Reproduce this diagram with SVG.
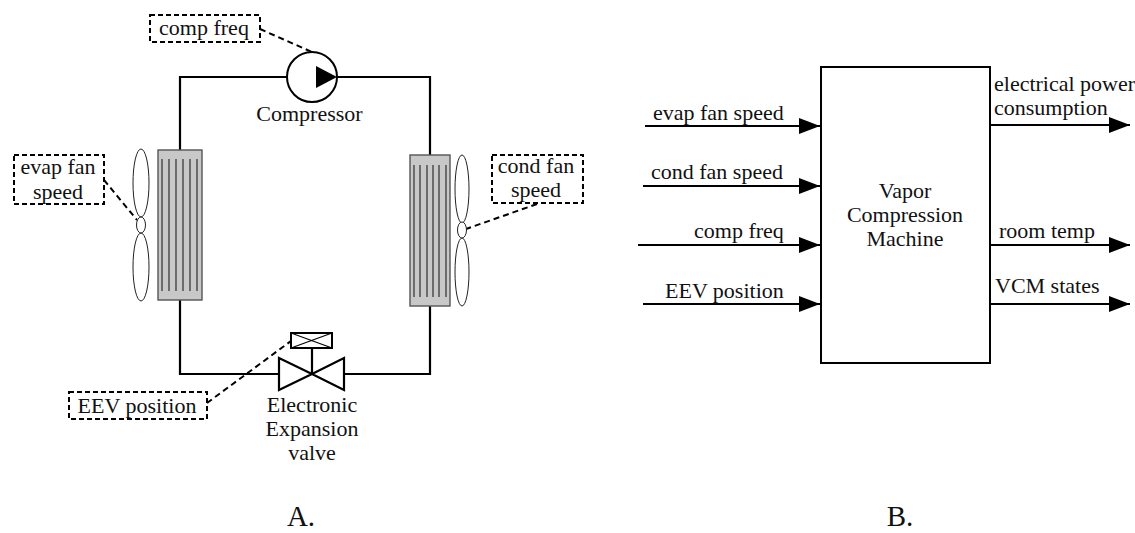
<svg xmlns="http://www.w3.org/2000/svg" width="1135" height="533" viewBox="0 0 1135 533">
<style>
text{font-family:"Liberation Serif","Times New Roman",serif;font-size:22px;fill:#111}
.m{text-anchor:middle}
.cap{font-size:29px}
.pipe{fill:none;stroke:#000;stroke-width:2.2}
.dash{fill:#fff;stroke:#000;stroke-width:2;stroke-dasharray:5 3}
.lead{fill:none;stroke:#000;stroke-width:2;stroke-dasharray:6 4}
.hx{fill:#c8c8c8;stroke:#555;stroke-width:1.4}
.fin{fill:none;stroke:#555;stroke-width:1.6}
.fan{fill:#fff;stroke:#222;stroke-width:1}
.sig{fill:none;stroke:#000;stroke-width:2;marker-end:url(#ah)}
</style>
<defs>
<marker id="ah" markerUnits="userSpaceOnUse" markerWidth="22" markerHeight="16" refX="21" refY="8" orient="auto"><path d="M0 0L21 8L0 16Z" fill="#000"/></marker>
</defs>
<g id="connectors">
<path class="pipe" d="M287 77H180V150M337 77H430V155M180 300V374H279M344 374H430V306"/>
<path class="lead" d="M260 29L312 52"/>
<path class="lead" d="M104 180L137 220"/>
<path class="lead" d="M537 204L466 229"/>
<path class="lead" d="M207 403L291 341"/>
<path class="sig" d="M645 126H820"/>
<path class="sig" d="M643 186H820"/>
<path class="sig" d="M638 245H820"/>
<path class="sig" d="M643 304H820"/>
<path class="sig" d="M990 125H1130"/>
<path class="sig" d="M990 245H1130"/>
<path class="sig" d="M990 304H1130"/>
</g>
<g id="compressor">
<circle cx="312" cy="77" r="25" fill="#fff" stroke="#000" stroke-width="2"/>
<path d="M316 66L337 77L316 88Z" fill="#000"/>
<text class="m" x="309.500" y="121">Compressor</text>
</g>
<g id="evaporator">
<rect class="hx" x="158" y="150" width="44" height="150"/>
<path class="fin" d="M162 159V291M169 159V291M176 159V291M183 159V291M190 159V291M197 159V291"/>
</g>
<g id="condenser">
<rect class="hx" x="410" y="155" width="40" height="151"/>
<path class="fin" d="M414 165V297M420 165V297M427 165V297M433 165V297M439 165V297M446 165V297"/>
</g>
<g id="evap-fan">
<ellipse class="fan" cx="141" cy="183" rx="8" ry="34"/>
<ellipse class="fan" cx="141" cy="267" rx="8" ry="34"/>
<ellipse class="fan" cx="141" cy="225" rx="4.500" ry="8"/>
</g>
<g id="cond-fan">
<ellipse class="fan" cx="462" cy="189" rx="7" ry="34"/>
<ellipse class="fan" cx="462" cy="272" rx="7" ry="34"/>
<ellipse class="fan" cx="462" cy="230" rx="4.500" ry="8"/>
</g>
<g id="valve">
<path class="pipe" d="M312 374L279 358V390ZM312 374L344 358V390ZM312 374V348"/>
<rect x="291" y="333" width="41" height="15" fill="#fff" stroke="#000" stroke-width="2"/>
<path d="M291 333L332 348M291 348L332 333" stroke="#000" stroke-width="1.200"/>
<text class="m" x="312" y="412">Electronic</text>
<text class="m" x="312" y="436">Expansion</text>
<text class="m" x="312" y="460">valve</text>
</g>
<g id="comp-freq-label"><rect class="dash" x="150" y="15" width="110" height="27"/><text class="m" x="204" y="35">comp freq</text></g>
<g id="evap-label"><rect class="dash" x="14" y="155" width="90" height="49"/><text class="m" x="58" y="174">evap fan</text><text class="m" x="58" y="199">speed</text></g>
<g id="cond-label"><rect class="dash" x="492" y="155" width="91" height="48"/><text class="m" x="536" y="173">cond fan</text><text class="m" x="536" y="197">speed</text></g>
<g id="eev-label"><rect class="dash" x="69" y="392" width="138" height="27"/><text class="m" x="137" y="413">EEV position</text></g>
<g id="vcm">
<rect x="821" y="67" width="169" height="296" fill="#fff" stroke="#000" stroke-width="2"/>
<text class="m" x="905" y="198">Vapor</text>
<text class="m" x="905" y="222">Compression</text>
<text class="m" x="905" y="246">Machine</text>
</g>
<g id="signal-labels">
<text x="653" y="120">evap fan speed</text>
<text x="651" y="179">cond fan speed</text>
<text x="694" y="238">comp freq</text>
<text x="665" y="298">EEV position</text>
<text x="994" y="91">electrical power</text>
<text x="994" y="115">consumption</text>
<text x="999" y="238">room temp</text>
<text x="995" y="293">VCM states</text>
</g>
<text class="m cap" x="301" y="526">A.</text>
<text class="m cap" x="900" y="526">B.</text>
</svg>
